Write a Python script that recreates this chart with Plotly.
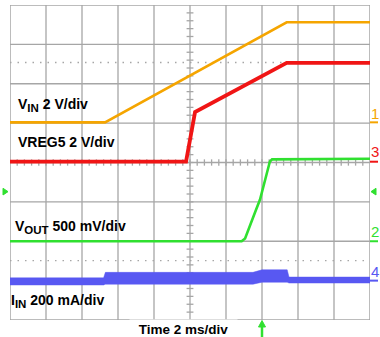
import plotly.graph_objects as go

# Screen: 10 horizontal divisions (2 ms/div), 8 vertical divisions
T_PER_DIV = 2.0
N_XDIV, N_YDIV = 10, 8

# CH1  VIN, 2 V/div
vin_t = [0.0, 5.28, 15.37, 20.0]
vin_v = [0.0, 0.0, 5.08, 5.08]
VIN_SCALE, VIN_POS = 2.0, 1.02

# CH3  VREG5, 2 V/div
vreg_t = [0.0, 9.78, 10.28, 15.37, 20.0]
vreg_v = [0.0, 0.0, 2.52, 5.02, 5.02]
VREG_SCALE, VREG_POS = 2.0, 0.02

# CH2  VOUT, 500 mV/div
vout_t = [0.0, 12.87, 13.06, 13.33, 13.61, 13.89, 14.06, 14.28, 14.44, 14.56, 20.0]
vout_v = [0.0, 0.0, 0.036, 0.188, 0.365, 0.53, 0.695, 0.873, 1.013, 1.04, 1.047]
VOUT_SCALE, VOUT_POS = 0.5, -2.0

# CH4  IIN, 200 mA/div (upper / lower envelope of the noisy trace, mA)
iin_t = [0.0, 5.2, 5.3, 13.5, 14.0, 15.4, 15.5, 20.0]
iin_hi = [14, 14, 42, 42, 55, 55, 18, 18]
iin_lo = [-22, -22, -18, -18, -8, -8, -12, -12]
IIN_SCALE, IIN_POS = 200.0, -3.0

C_VIN, C_VREG, C_VOUT, C_IIN = "#F5A500", "#F01515", "#30E030", "#5858F2"
GRID = "#A6A6A6"
FONT = "Liberation Sans, Arial, sans-serif"


def to_div(vals, scale, pos):
    return [pos + v / scale for v in vals]


fig = go.Figure()
fig.add_trace(go.Scatter(x=iin_t, y=to_div(iin_lo, IIN_SCALE, IIN_POS), mode="lines",
                         line=dict(color=C_IIN, width=0.5), hoverinfo="skip"))
fig.add_trace(go.Scatter(x=iin_t, y=to_div(iin_hi, IIN_SCALE, IIN_POS), mode="lines",
                         line=dict(color=C_IIN, width=0.5), fill="tonexty",
                         fillcolor=C_IIN, hoverinfo="skip"))
fig.add_trace(go.Scatter(x=vout_t, y=to_div(vout_v, VOUT_SCALE, VOUT_POS), mode="lines",
                         line=dict(color=C_VOUT, width=2.6)))
fig.add_trace(go.Scatter(x=vreg_t, y=to_div(vreg_v, VREG_SCALE, VREG_POS), mode="lines",
                         line=dict(color=C_VREG, width=3.8)))
fig.add_trace(go.Scatter(x=vin_t, y=to_div(vin_v, VIN_SCALE, VIN_POS), mode="lines",
                         line=dict(color=C_VIN, width=2.6)))

xmax = N_XDIV * T_PER_DIV
ymax = N_YDIV / 2
shapes = []
# graticule
for i in range(1, N_XDIV):
    shapes.append(dict(type="line", xref="x", yref="y", x0=i * T_PER_DIV, x1=i * T_PER_DIV,
                       y0=-ymax, y1=ymax, line=dict(color=GRID, width=1.3), layer="below"))
for j in range(-N_YDIV // 2 + 1, N_YDIV // 2):
    shapes.append(dict(type="line", xref="x", yref="y", x0=0, x1=xmax, y0=j, y1=j,
                       line=dict(color=GRID, width=1.3), layer="below"))
shapes.append(dict(type="rect", xref="x", yref="y", x0=0, x1=xmax, y0=-ymax, y1=ymax,
                   line=dict(color=GRID, width=1.5), layer="below"))
# minor ticks on the centre axes (5 per division)
xc = xmax / 2
for k in range(-N_YDIV * 5 // 2 + 1, N_YDIV * 5 // 2):
    yk = k / 5
    shapes.append(dict(type="line", xref="x", yref="y", x0=xc - 0.19, x1=xc + 0.19,
                       y0=yk, y1=yk, line=dict(color=GRID, width=1.3), layer="below"))
for k in range(1, N_XDIV * 5):
    xk = k * T_PER_DIV / 5
    shapes.append(dict(type="line", xref="x", yref="y", x0=xk, x1=xk,
                       y0=-0.08, y1=0.08, line=dict(color=GRID, width=1.3), layer="below"))
# cursor lines
for yc in (2.54, -2.49):
    shapes.append(dict(type="line", xref="x", yref="y", x0=0, x1=xmax, y0=yc, y1=yc,
                       line=dict(color=GRID, width=1.3, dash="1.5px,6px"), layer="below"))

# channel ground markers on the right edge
px = 1 / 360.0
for pos, col in ((VIN_POS, C_VIN), (VREG_POS, C_VREG), (VOUT_POS, C_VOUT), (IIN_POS, C_IIN)):
    shapes.append(dict(type="line", xref="paper", yref="y", x0=1.0, x1=1.0 + 8 * px,
                       y0=pos, y1=pos, line=dict(color=col, width=2)))

# trigger level markers
trig = -0.74
dy = 0.085
shapes.append(dict(type="path", xref="paper", yref="y",
                   path=f"M {-7 * px},{trig - dy} L {-2 * px},{trig} L {-7 * px},{trig + dy} Z",
                   fillcolor=C_VOUT, line=dict(color=C_VOUT, width=1)))
shapes.append(dict(type="path", xref="paper", yref="y",
                   path=f"M {1 + 6 * px},{trig - dy} L {1 + 1 * px},{trig} L {1 + 6 * px},{trig + dy} Z",
                   fillcolor=C_VOUT, line=dict(color=C_VOUT, width=1)))

# trigger position arrow below the screen
tx = 252 * px
py = 1 / 315.0
shapes.append(dict(type="line", xref="paper", yref="paper", x0=tx, x1=tx,
                   y0=-17 * py, y1=-5 * py, line=dict(color=C_VOUT, width=2.5)))
shapes.append(dict(type="path", xref="paper", yref="paper",
                   path=f"M {tx - 3.5 * px},{-7 * py} L {tx},{-0.5 * py} L {tx + 3.5 * px},{-7 * py} Z",
                   fillcolor=C_VOUT, line=dict(color=C_VOUT, width=1)))

annotations = []


def label(text, x_px, y_div):
    annotations.append(dict(text=f"<b>{text}</b>", xref="paper", yref="y", x=x_px * px, y=y_div,
                            xanchor="left", yanchor="middle", showarrow=False, borderpad=0,
                            font=dict(family=FONT, size=14, color="black")))


def sub(s):
    return f"<sub><span style='font-size:11.5px'>{s}</span></sub>"


label(f"V{sub('IN')} 2 V/div", 6.5, 1.45)
label("VREG5 2 V/div", 6.5, 0.51)
label(f"V{sub('OUT')} 500 mV/div", 3.5, -1.64)
label(f"I{sub('IN')} 200 mA/div", -0.5, -3.52)

for txt, yv, col in (("1", 1.24, C_VIN), ("3", 0.27, C_VREG), ("2", -1.76, C_VOUT), ("4", -2.77, C_IIN)):
    annotations.append(dict(text=txt, xref="paper", yref="y", x=1.0, y=yv, xanchor="left",
                            yanchor="middle", showarrow=False, borderpad=0, xshift=0,
                            font=dict(family=FONT, size=15, color=col)))

annotations.append(dict(text="<b>Time 2 ms/div</b>", xref="paper", yref="paper",
                        x=173.5 * px, y=1 * py, xanchor="center", yanchor="top",
                        width=107, height=18, borderpad=0, bgcolor="white",
                        showarrow=False, font=dict(family=FONT, size=13.5, color="black")))

fig.update_layout(
    width=380, height=337,
    margin=dict(l=10, r=10, t=5, b=17),
    plot_bgcolor="white", paper_bgcolor="white",
    showlegend=False,
    xaxis=dict(range=[0, xmax], visible=False, fixedrange=True),
    yaxis=dict(range=[-ymax, ymax], visible=False, fixedrange=True),
    shapes=shapes,
    annotations=annotations,
)

fig.write_html("out.html")
